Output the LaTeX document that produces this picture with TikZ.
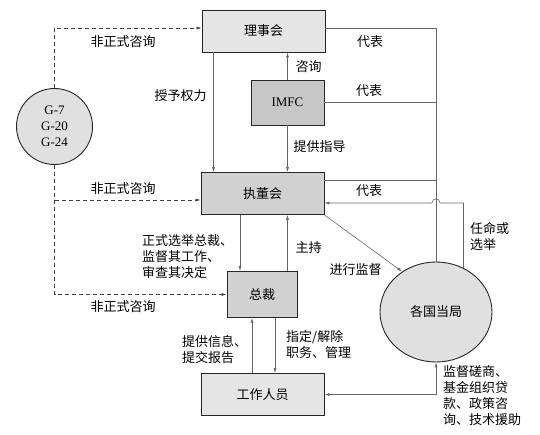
\documentclass[tikz,border=0pt]{standalone}
\usepackage{fontspec}
\setmainfont{Liberation Serif}
\newfontfamily\cjk{Noto Sans CJK SC}
\usetikzlibrary{arrows.meta,shapes.geometric}

\begin{document}
\begin{tikzpicture}[
x=1pt,y=-1pt,
font=\cjk\fontsize{13}{16}\selectfont,
box/.style={draw=black!85,line width=0.9pt,minimum width=123pt,minimum height=42pt,inner sep=0pt},
rnd/.style={draw=black!85,line width=0.9pt,fill=black!12},
ln/.style={draw=black!60,line width=0.6pt},
arr/.style={ln,-{Latex[length=5pt,width=3pt]}},
dsh/.style={arr,draw=black!75,dash pattern=on 4pt off 3pt},
lbl/.style={align=left,inner sep=0pt}
]
\useasboundingbox (0,0) rectangle (540,435);
\node[box,fill=black!10] (council) at (263.5,31) {理事会};
\node[box,fill=black!22,minimum width=73pt,minimum height=45pt,font=\rmfamily\fontsize{13}{16}\selectfont] (imfc) at (287.5,102.5) {IMFC};
\node[box,fill=black!18] (board) at (262.5,193.5) {执董会};
\node[box,fill=black!18,minimum width=70pt,minimum height=46pt] (md) at (262,294.5) {总裁};
\node[box,fill=black!10] (staff) at (262.5,394.5) {工作人员};
\node[rnd,circle,minimum size=76pt,align=center,font=\rmfamily\fontsize{13}{16}\selectfont] (g) at (54.5,126.5) {G-7\\G-20\\G-24};
\node[rnd,ellipse,minimum width=112pt,minimum height=100pt] (auth) at (436,312) {各国当局};
% informal consultation
\coordinate (bin) at ([yshift=-6.5pt]board.west);
\draw[dsh] (g.north) |- ([yshift=3pt]council.west);
\draw[dsh] (g.south) |- (md.west);
\draw[dsh] (g.south |- bin) -- (bin);
\node[lbl] (inf1) at (123,42) {非正式咨询};
\node[lbl] (inf2) at (123,189) {非正式咨询};
\node[lbl] (inf3) at (123,307) {非正式咨询};
% council, imfc, board
\draw[arr] ([xshift=-50pt]council.south) -- ([xshift=-50pt]council.south |- board.north);
\node[lbl] (grant) at (180.5,96) {授予权力};
\draw[arr] (imfc.north) -- (imfc.north |- council.south);
\node[lbl] (consult) at (308.5,67) {咨询};
\draw[arr] (imfc.south) -- (imfc.south |- board.north);
\node[lbl] (guide) at (319.5,147) {提供指导};
% representation
\draw[ln] ([yshift=3pt]council.east) -| (auth.north);
\draw[ln] (imfc.east) -- (imfc.east -| auth.north);
\draw[ln] ([yshift=13pt]board.east) -- ([yshift=13pt]board.east -| auth.north);
\node[lbl] (rep1) at (370,42) {代表};
\node[lbl] (rep2) at (369,91) {代表};
\node[lbl] (rep3) at (369,191) {代表};
\coordinate (jin) at ([yshift=-9.5pt]board.east);
\coordinate (jmp) at (auth.north |- jin);
\draw[arr] (auth.58) |- ([xshift=4pt]jmp) .. controls +(0,-5.5) and +(0,-5.5) .. ([xshift=-4pt]jmp) -- (jin);
\node[lbl,anchor=west] (appoint) at (470,236) {任命或\\选举};
\draw[arr] (board.south east) -- (auth.130);
\node[lbl] (superv) at (355.5,270) {进行监督};
% board, md, staff
\draw[arr] ([xshift=-22pt]md.north |- board.south) -- ([xshift=-22pt]md.north);
\node[lbl,anchor=west] (elect) at (142,257) {正式选举总裁、\\监督其工作、\\审查其决定};
\draw[arr] ([xshift=25.5pt]md.north) -- ([xshift=25.5pt]md.north |- board.south);
\node[lbl] (chair) at (308.5,248) {主持};
\draw[arr] ([xshift=-10pt]md.south |- staff.north) -- ([xshift=-10pt]md.south);
\node[lbl,anchor=west] (inform) at (182,350) {提供信息、\\提交报告};
\draw[arr] ([xshift=13pt]md.south) -- ([xshift=13pt]md.south |- staff.north);
\node[lbl,anchor=west] (assign) at (286,345) {指定/解除\\职务、管理};
\draw[ln,{Latex[length=5pt,width=3pt]}-{Latex[length=5pt,width=3pt]}] (staff.east) -| (auth.south);
\node[lbl,anchor=west] (advice) at (443,396) {监督磋商、\\基金组织贷\\款、政策咨\\询、技术援助};
\end{tikzpicture}
\end{document}
